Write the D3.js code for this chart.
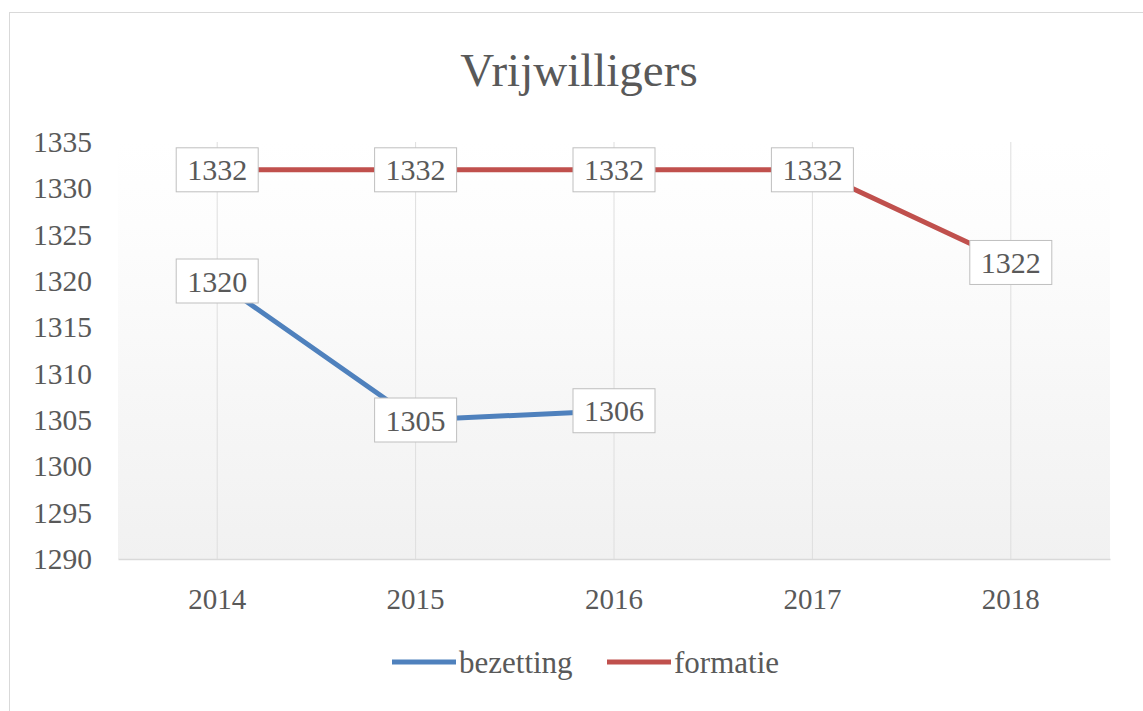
<!DOCTYPE html>
<html>
<head>
<meta charset="utf-8">
<title>Vrijwilligers</title>
<script src="https://cdn.jsdelivr.net/npm/d3@7"></script>
<style>
  body { margin: 0; background: #fff; }
  svg text { font-family: "Liberation Serif", serif; fill: #595959; }
</style>
</head>
<body>
<div id="chart"></div>
<script>
const years = ["2014", "2015", "2016", "2017", "2018"];
const bezetting = [1320, 1305, 1306, null, null];
const formatie = [1332, 1332, 1332, 1332, 1322];
const yTicks = [1290, 1295, 1300, 1305, 1310, 1315, 1320, 1325, 1330, 1335];

const width = 1143, height = 711;
const plot = { left: 118, right: 1110, top: 142, bottom: 559 };

const svg = d3.select("#chart").append("svg")
    .attr("width", width)
    .attr("height", height);

// outer frame
svg.append("rect")
    .attr("x", 9.5).attr("y", 12.5)
    .attr("width", width + 20).attr("height", height + 20)
    .attr("fill", "#fff")
    .attr("stroke", "#d9d9d9");

const grad = svg.append("defs").append("linearGradient")
    .attr("id", "bg").attr("x1", 0).attr("y1", 0).attr("x2", 0).attr("y2", 1);
grad.append("stop").attr("offset", "0%").attr("stop-color", "#ffffff");
grad.append("stop").attr("offset", "20%").attr("stop-color", "#fdfdfd");
grad.append("stop").attr("offset", "100%").attr("stop-color", "#f1f1f1");

const x = d3.scaleBand().domain(years).range([plot.left, plot.right]);
const y = d3.scaleLinear().domain([1290, 1335]).range([plot.bottom, plot.top]);

svg.append("rect")
    .attr("x", plot.left).attr("y", plot.top)
    .attr("width", plot.right - plot.left).attr("height", plot.bottom - plot.top)
    .attr("fill", "url(#bg)");

// vertical gridlines
svg.append("g").selectAll("line")
    .data(years)
    .join("line")
    .attr("x1", d => x(d) + x.bandwidth() / 2)
    .attr("x2", d => x(d) + x.bandwidth() / 2)
    .attr("y1", plot.top).attr("y2", plot.bottom)
    .attr("stroke", "#dedede").attr("stroke-width", 1);

// x axis
const xAxis = svg.append("g")
    .attr("transform", `translate(0,${plot.bottom})`)
    .call(d3.axisBottom(x).tickSize(0).tickPadding(29));
xAxis.select(".domain").attr("stroke", "#d9d9d9").attr("stroke-width", 1.5);
xAxis.selectAll("text").style("font-size", "29px").attr("fill", "#595959");

// y axis
const yAxis = svg.append("g")
    .attr("transform", `translate(${plot.left},0)`)
    .call(d3.axisLeft(y).tickValues(yTicks).tickFormat(d3.format("d")).tickSize(0).tickPadding(26));
yAxis.select(".domain").remove();
yAxis.selectAll("text").style("font-size", "29.5px").attr("fill", "#595959");

// title
svg.append("text")
    .attr("x", 579).attr("y", 86)
    .attr("text-anchor", "middle")
    .style("font-size", "47px")
    .text("Vrijwilligers");

const series = [
    { name: "bezetting", values: bezetting, color: "#4f81bd" },
    { name: "formatie", values: formatie, color: "#c0504d" }
];

const line = d3.line()
    .defined(d => d.v != null)
    .x(d => x(d.year) + x.bandwidth() / 2)
    .y(d => y(d.v));

series.forEach(s => {
    const pts = years.map((yr, i) => ({ year: yr, v: s.values[i] }));
    svg.append("path")
        .datum(pts)
        .attr("d", line)
        .attr("fill", "none")
        .attr("stroke", s.color)
        .attr("stroke-width", 5)
        .attr("stroke-linejoin", "round");
});

// data labels
series.forEach(s => {
    const pts = years.map((yr, i) => ({ year: yr, v: s.values[i] })).filter(d => d.v != null);
    const g = svg.append("g").selectAll("g")
        .data(pts)
        .join("g")
        .attr("transform", d => `translate(${x(d.year) + x.bandwidth() / 2},${y(d.v)})`);
    g.append("rect")
        .attr("x", -41).attr("y", -22)
        .attr("width", 82).attr("height", 44)
        .attr("fill", "#fff")
        .attr("stroke", "#bfbfbf").attr("stroke-width", 1);
    g.append("text")
        .attr("text-anchor", "middle")
        .attr("dy", "0.35em")
        .style("font-size", "30px")
        .text(d => d.v);
});

// legend
const legend = svg.append("g").attr("transform", "translate(392,662)");
const legItems = [
    { name: "bezetting", color: "#4f81bd", x: 0 },
    { name: "formatie", color: "#c0504d", x: 215 }
];
const li = legend.selectAll("g").data(legItems).join("g")
    .attr("transform", d => `translate(${d.x},0)`);
li.append("line")
    .attr("x1", 0).attr("x2", 64).attr("y1", 0).attr("y2", 0)
    .attr("stroke", d => d.color).attr("stroke-width", 5);
li.append("text")
    .attr("x", 67).attr("dy", "0.35em")
    .style("font-size", "31px")
    .text(d => d.name);
</script>
</body>
</html>
